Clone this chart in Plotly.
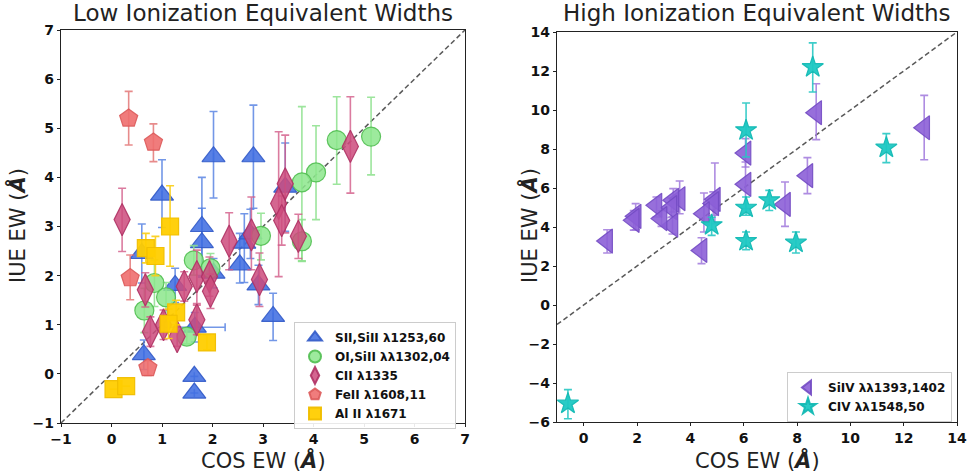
import plotly.graph_objects as go

# ---------------- Low ionization data ----------------
sii_x = [1.0, 2.02, 2.81, 1.79, 1.79, 3.44, 2.63, 2.54, 2.91, 3.2, 1.26, 2.02, 0.64, 1.64, 1.64, 1.65, 0.6, 2.75]
sii_y = [3.64, 4.42, 4.42, 3.0, 2.67, 3.8, 2.66, 2.22, 1.81, 1.17, 1.8, 2.05, 0.39, -0.05, -0.39, 0.95, 2.45, 2.85]
sii_ep = [0.72, 0.92, 1.05, 1.0, 0.7, 0.9, 0.6, 0.64, 0.4, 0.47, 0.35, 0.3, 0.3, 0.0, 0.0, 0.3, 0.6, 0.5]
sii_em = [0.66, 0.84, 1.05, 1.0, 0.7, 0.9, 0.8, 0.37, 0.4, 0.49, 0.35, 0.3, 0.3, 0.0, 0.0, 0.3, 0.6, 0.5]
sii_xe = [0, 0, 0, 0, 0, 0, 0, 0, 0, 0, 0, 0, 0, 0, 0, 0.6, 0, 0]

oi_x = [5.14, 4.46, 4.05, 3.77, 3.77, 2.96, 1.63, 1.96, 0.85, 1.08, 0.65, 1.49]
oi_y = [4.83, 4.76, 4.1, 3.9, 2.7, 2.81, 2.31, 2.15, 1.85, 1.56, 1.29, 0.76]
oi_ep = [0.8, 0.88, 0.95, 1.54, 0.44, 0.46, 0.3, 0.3, 0.47, 0.3, 0.45, 0.15]
oi_em = [0.78, 0.9, 0.96, 1.6, 0.41, 0.49, 0.3, 0.3, 0.48, 0.3, 0.45, 0.15]

cii_x = [4.73, 3.44, 3.31, 3.37, 2.33, 2.77, 3.7, 2.93, 0.21, 0.67, 1.44, 1.69, 1.94, 1.96, 1.69, 0.77, 1.03, 1.3]
cii_y = [4.63, 3.87, 3.47, 3.12, 2.7, 2.83, 2.8, 1.92, 3.14, 1.71, 1.78, 1.98, 1.98, 1.68, 1.1, 0.86, 1.0, 0.76]
cii_ep = [1.01, 0.99, 1.46, 0.5, 0.58, 0.77, 0.45, 0.54, 0.64, 0.35, 0.3, 0.54, 0.4, 0.35, 0.3, 0.3, 0.3, 0.2]
cii_em = [0.95, 1.0, 1.49, 0.5, 0.58, 0.71, 0.45, 0.55, 0.65, 0.35, 0.3, 0.55, 0.4, 0.35, 0.3, 0.3, 0.3, 0.2]

feii_x = [0.34, 0.83, 0.37, 0.72]
feii_y = [5.2, 4.71, 1.95, 0.12]
feii_ep = [0.55, 0.38, 0.47, 0.15]
feii_em = [0.54, 0.39, 0.44, 0.15]

alii_x = [1.16, 0.68, 0.87, 1.28, 1.13, 1.89, 0.04, 0.29]
alii_y = [3.0, 2.56, 2.4, 1.25, 1.02, 0.64, -0.31, -0.25]
alii_ep = [0.83, 0.3, 0.4, 0.25, 0.3, 0.15, 0.0, 0.0]
alii_em = [0.81, 0.3, 0.4, 0.25, 0.3, 0.15, 0.0, 0.0]

# ---------------- High ionization data ----------------
siiv_x = [12.77, 8.72, 8.39, 7.55, 6.07, 6.07, 4.92, 4.86, 4.51, 4.42, 3.6, 3.36, 3.29, 3.33, 2.73, 2.92, 1.95, 1.88, 0.88]
siiv_y = [9.09, 9.86, 6.63, 5.16, 7.79, 6.19, 5.42, 5.2, 4.68, 2.8, 5.45, 5.37, 4.99, 4.09, 5.11, 4.43, 4.55, 4.34, 3.28]
siiv_ep = [1.66, 1.49, 0.93, 1.15, 0.74, 1.14, 1.86, 0.6, 1.06, 0.65, 0.91, 0.6, 0.5, 0.45, 0.43, 0.4, 0.65, 0.5, 0.58]
siiv_em = [1.64, 1.38, 0.92, 1.13, 0.71, 1.25, 1.25, 0.6, 0.94, 0.68, 0.77, 0.6, 0.5, 0.45, 0.6, 0.4, 0.69, 0.5, 0.61]

civ_x = [8.59, 6.09, 11.35, 6.96, 6.09, 4.8, 6.09, 7.96, -0.59]
civ_y = [12.2, 8.96, 8.07, 5.37, 4.99, 4.09, 3.28, 3.2, -5.06]
civ_ep = [1.24, 1.4, 0.72, 0.51, 0.55, 0.41, 0.46, 0.54, 0.72]
civ_em = [1.28, 1.37, 0.77, 0.52, 0.39, 0.52, 0.44, 0.53, 0.77]

one_to_one_low = [-1, 7]
one_to_one_high = [-1, 14]

low_ticks = [-1, 0, 1, 2, 3, 4, 5, 6, 7]
high_ticks = [-6, -4, -2, 0, 2, 4, 6, 8, 10, 12, 14]
high_xticks = [0, 2, 4, 6, 8, 10, 12, 14]

FONT = "DejaVu Sans"

fig = go.Figure()


def add_series(x, y, ep, em, name, symbol, size, fill, line, ecol, xa, ya, legend, xe=None):
    kw = {}
    if xe is not None:
        kw["error_x"] = dict(type="data", array=xe, color=ecol, thickness=1.6, width=4)
    fig.add_trace(go.Scatter(
        x=x, y=y, mode="markers", name=name, xaxis=xa, yaxis=ya, legend=legend,
        marker=dict(symbol=symbol, size=size, color=fill, line=dict(color=line, width=1.2)),
        error_y=dict(type="data", symmetric=False, array=ep, arrayminus=em,
                     color=ecol, thickness=1.6, width=4),
        **kw))


# diagonals
fig.add_trace(go.Scatter(x=one_to_one_low, y=one_to_one_low, mode="lines", xaxis="x", yaxis="y",
                         line=dict(color="rgba(60,60,60,0.85)", dash="5px,3px", width=1.5), showlegend=False,
                         hoverinfo="skip"))
fig.add_trace(go.Scatter(x=one_to_one_high, y=one_to_one_high, mode="lines", xaxis="x2", yaxis="y2",
                         line=dict(color="rgba(60,60,60,0.85)", dash="5px,3px", width=1.5), showlegend=False,
                         hoverinfo="skip"))

add_series(sii_x, sii_y, sii_ep, sii_em, "<b>SII,SiII λ1253,60</b>", "triangle-up", 20,
           "rgba(65,110,225,0.88)", "rgba(50,90,200,0.9)", "rgba(80,125,225,0.8)", "x", "y", "legend", xe=sii_xe)
add_series(oi_x, oi_y, oi_ep, oi_em, "<b>OI,SiII λλ1302,04</b>", "circle", 19,
           "rgba(140,230,140,0.85)", "rgba(80,190,80,0.9)", "rgba(140,225,140,0.85)", "x", "y", "legend")
add_series(cii_x, cii_y, cii_ep, cii_em, "<b>CII λ1335</b>", "diamond-tall", 23,
           "rgba(205,75,125,0.85)", "rgba(175,50,100,0.9)", "rgba(210,90,135,0.8)", "x", "y", "legend")
add_series(feii_x, feii_y, feii_ep, feii_em, "<b>FeII λ1608,11</b>", "pentagon", 19,
           "rgba(238,110,110,0.9)", "rgba(220,90,90,0.9)", "rgba(225,110,110,0.8)", "x", "y", "legend")
add_series(alii_x, alii_y, alii_ep, alii_em, "<b>Al II λ1671</b>", "square", 17,
           "rgba(255,205,0,0.95)", "rgba(240,190,0,0.95)", "rgba(250,205,20,0.9)", "x", "y", "legend")

add_series(siiv_x, siiv_y, siiv_ep, siiv_em, "<b>SiIV λλ1393,1402</b>", "triangle-left", 21,
           "rgba(140,95,215,0.9)", "rgba(115,75,195,0.9)", "rgba(160,120,220,0.85)", "x2", "y2", "legend2")
add_series(civ_x, civ_y, civ_ep, civ_em, "<b>CIV λλ1548,50</b>", "star", 16,
           "rgba(30,200,195,0.95)", "rgba(20,185,180,0.95)", "rgba(40,200,195,0.9)", "x2", "y2", "legend2")

axis_common = dict(showline=True, linecolor="#222", linewidth=1.2, mirror=True, ticks="outside",
                   ticklen=3, tickcolor="#222", showgrid=False, zeroline=False, automargin=False,
                   tickfont=dict(family=FONT, size=14, color="#111", weight="bold"))


def ann(text, x, y, angle=0, size=21):
    return dict(text=text, x=x / 970, y=1 - y / 474, xref="paper", yref="paper", showarrow=False,
                xanchor="center", yanchor="middle", textangle=angle,
                font=dict(family=FONT, size=size, color="#222"))


fig.update_layout(
    width=970, height=474,
    margin=dict(l=0, r=0, t=0, b=0),
    paper_bgcolor="white", plot_bgcolor="white",
    font=dict(family=FONT),
    xaxis=dict(domain=[61 / 970, 465 / 970], range=[-1, 7], tickvals=low_ticks,
               ticktext=["−1" if v == -1 else str(v) for v in low_ticks],
               anchor="y", **axis_common),
    yaxis=dict(domain=[1 - 423 / 474, 1 - 30 / 474], range=[-1, 7], tickvals=low_ticks,
               ticktext=["−1" if v == -1 else str(v) for v in low_ticks],
               anchor="x", **axis_common),
    xaxis2=dict(domain=[557 / 970, 957 / 970], range=[-1, 14], tickvals=high_xticks,
                anchor="y2", **axis_common),
    yaxis2=dict(domain=[1 - 422 / 474, 1 - 32 / 474], range=[-6, 14], tickvals=high_ticks,
                ticktext=[("−" + str(-v)) if v < 0 else str(v) for v in high_ticks],
                anchor="x2", **axis_common),
    legend=dict(x=294 / 970, y=1 - 322 / 474, xanchor="left", yanchor="top",
                bgcolor="rgba(255,255,255,0.9)", bordercolor="#ccc", borderwidth=1,
                font=dict(family=FONT, size=12, color="#111"), tracegroupgap=0, itemsizing="constant",
                itemwidth=30),
    legend2=dict(x=787 / 970, y=1 - 372 / 474, xanchor="left", yanchor="top",
                 bgcolor="rgba(255,255,255,0.9)", bordercolor="#ccc", borderwidth=1,
                 font=dict(family=FONT, size=12, color="#111"), itemsizing="constant", itemwidth=30),
    annotations=[
        ann("Low Ionization Equivalent Widths", (61 + 465) / 2, 13, size=23),
        ann("High Ionization Equivalent Widths", (557 + 957) / 2, 13, size=23),
        ann("COS EW (<b><i>Å</i></b>)", 263, 460),
        ann("COS EW (<b><i>Å</i></b>)", 757, 460),
        ann("IUE EW (<b><i>Å</i></b>)", 18, 226, -90),
        ann("IUE EW (<b><i>Å</i></b>)", 530, 226, -90),
    ],
)

fig.write_html("out.html", config={"displayModeBar": False},
               post_script="document.body.style.margin='0';document.body.style.overflow='hidden';")
